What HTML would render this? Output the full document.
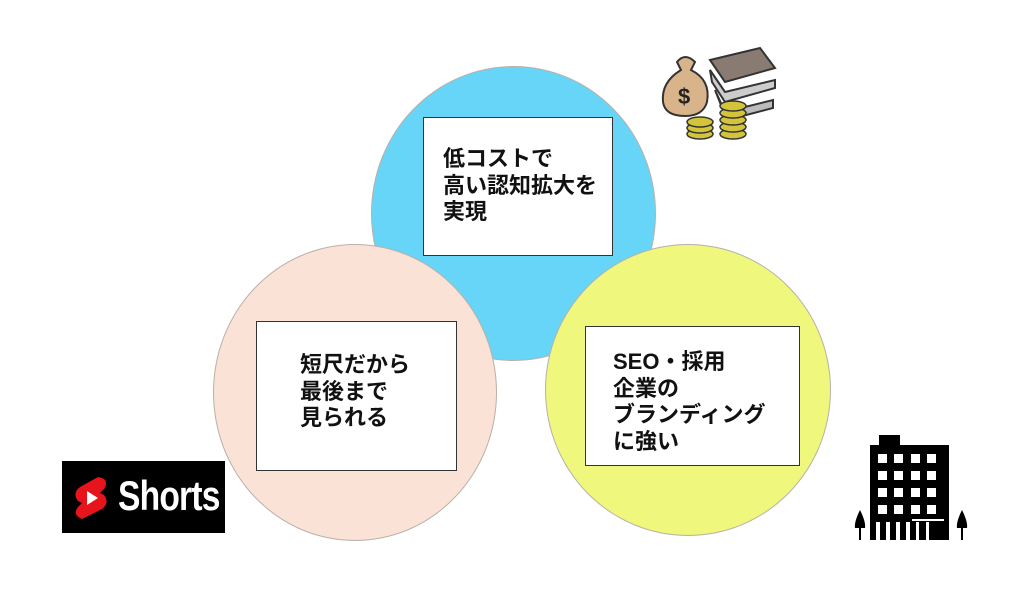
<!DOCTYPE html>
<html><head><meta charset="utf-8"><style>
body{margin:0;width:1024px;height:615px;background:#fff;overflow:hidden;position:relative;font-family:"Liberation Sans","Noto Sans CJK JP",sans-serif}
.c{position:absolute;border-radius:50%;border:1.5px solid #b9b0a8;box-sizing:border-box}
.b{position:absolute;background:#fff;border:1.5px solid #333;box-sizing:border-box}
.t{position:absolute;font-size:22px;line-height:26.5px;color:#111;font-weight:bold;white-space:nowrap}
</style></head><body>
<div class="c" style="left:371px;top:66px;width:285px;height:295px;background:#66d5f7"></div>
<div class="c" style="left:213px;top:244px;width:284px;height:297px;background:#fbe2d6"></div>
<div class="c" style="left:545px;top:244px;width:286px;height:292px;background:#eff77c"></div>
<div class="b" style="left:423px;top:117px;width:190px;height:139px"></div>
<div class="b" style="left:256px;top:321px;width:201px;height:150px"></div>
<div class="b" style="left:585px;top:326px;width:215px;height:140px"></div>
<div class="t" style="left:443px;top:146px">低コストで<br>高い認知拡大を<br>実現</div>
<div class="t" style="left:300px;top:352px">短尺だから<br>最後まで<br>見られる</div>
<div class="t" style="left:613px;top:349px">SEO・採用<br>企業の<br>ブランディング<br>に強い</div>
<div style="position:absolute;left:62px;top:461px;width:163px;height:72px;background:#000"></div>
<svg style="position:absolute;left:72px;top:475px" width="40" height="46" viewBox="0 0 40 46"><path d="M26 2 L8 12 Q0 18 6 26 L10 28 L6 32 Q0 40 10 44 L30 34 Q38 28 32 20 L28 18 L32 14 Q38 4 26 2Z" fill="#e8141b"/><path d="M15 16 L26 23 L15 30Z" fill="#fff"/></svg>
<div style="position:absolute;left:118px;top:472px;color:#fff;font-size:42px;font-weight:bold;letter-spacing:-1px;transform:scaleX(0.8);transform-origin:left">Shorts</div>
<svg style="position:absolute;left:655px;top:40px" width="130" height="105" viewBox="0 0 130 105">
<path d="M22 22 Q30 12 40 22 L36 30 Q56 40 52 62 Q48 76 30 76 Q10 76 8 62 Q6 42 26 30Z" fill="#d9b48a" stroke="#333" stroke-width="2"/>
<text x="23" y="64" font-size="22" font-weight="bold" fill="#222" font-family="Liberation Sans">$</text>
<g stroke="#333" stroke-width="2"><path d="M55 20 L105 8 L120 28 L70 42Z" fill="#8a7b72"/><path d="M55 30 L70 52 L120 40 L120 48 L70 62 L57 42Z" fill="#ccc"/><path d="M60 50 L70 72 L118 60 L118 68 L72 80Z" fill="#bbb"/></g>
<g stroke="#333" stroke-width="1.5" fill="#d4c43a"><ellipse cx="45" cy="94" rx="13" ry="5"/><ellipse cx="45" cy="88" rx="13" ry="5"/><ellipse cx="45" cy="82" rx="13" ry="5"/><ellipse cx="78" cy="94" rx="13" ry="5"/><ellipse cx="78" cy="87" rx="13" ry="5"/><ellipse cx="78" cy="80" rx="13" ry="5"/><ellipse cx="78" cy="73" rx="13" ry="5"/><ellipse cx="78" cy="66" rx="13" ry="5"/></g>
</svg>
<svg style="position:absolute;left:850px;top:430px" width="125" height="115" viewBox="0 0 125 115">
<rect x="29" y="5" width="21" height="12" fill="#000"/><rect x="20" y="15" width="79" height="95" fill="#000"/>
<g fill="#fff">
<rect x="28" y="24" width="9" height="9"/><rect x="44" y="24" width="9" height="9"/><rect x="61" y="24" width="9" height="9"/><rect x="77" y="24" width="9" height="9"/>
<rect x="28" y="41" width="9" height="9"/><rect x="44" y="41" width="9" height="9"/><rect x="61" y="41" width="9" height="9"/><rect x="77" y="41" width="9" height="9"/>
<rect x="28" y="58" width="9" height="9"/><rect x="44" y="58" width="9" height="9"/><rect x="61" y="58" width="9" height="9"/><rect x="77" y="58" width="9" height="9"/>
<rect x="28" y="75" width="9" height="9"/><rect x="44" y="75" width="9" height="9"/><rect x="61" y="75" width="9" height="9"/><rect x="77" y="75" width="9" height="9"/>
<rect x="26" y="92" width="4" height="18"/><rect x="36" y="92" width="4" height="18"/><rect x="46" y="92" width="4" height="18"/><rect x="56" y="92" width="4" height="18"/><rect x="66" y="92" width="3" height="18"/><rect x="76" y="92" width="3" height="18"/><rect x="62" y="89" width="32" height="2"/>
</g>
<path d="M10 80 Q4 92 5 98 L15 98 Q16 92 10 80Z" fill="#000"/><rect x="9" y="97" width="2" height="13" fill="#000"/>
<path d="M112 80 Q106 92 107 98 L117 98 Q118 92 112 80Z" fill="#000"/><rect x="111" y="97" width="2" height="13" fill="#000"/>
</svg>
</body></html>
